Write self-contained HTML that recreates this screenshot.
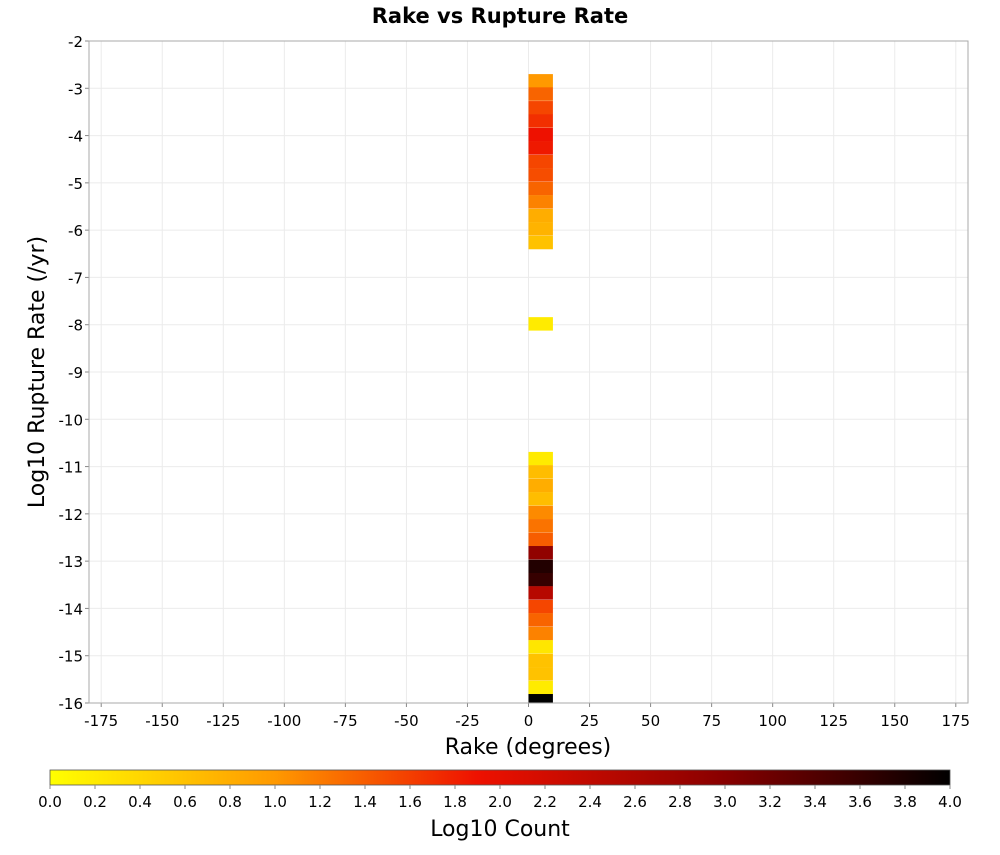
<!DOCTYPE html>
<html><head><meta charset="utf-8"><style>
body{margin:0;background:#fff;font-family:"Liberation Sans","DejaVu Sans",sans-serif;}
svg text{font-family:"DejaVu Sans","Liberation Sans",sans-serif;}
</style></head><body>
<svg id="c" width="1000" height="850" xmlns="http://www.w3.org/2000/svg">
<defs><linearGradient id="g" x1="0" x2="1" y1="0" y2="0">
<stop offset="0" stop-color="#ffff00"/><stop offset="0.25" stop-color="#ff9900"/><stop offset="0.475" stop-color="#ee1100"/><stop offset="0.75" stop-color="#880000"/><stop offset="1" stop-color="#000000"/></linearGradient></defs>
<text x="500" y="23" text-anchor="middle" font-size="21" font-weight="bold">Rake vs Rupture Rate</text>
<g id="grid"></g><g id="cells"></g><g id="axes"></g>
<text x="528" y="754" text-anchor="middle" font-size="22">Rake (degrees)</text>
<text transform="translate(44,372) rotate(-90)" text-anchor="middle" font-size="22">Log10 Rupture Rate (/yr)</text>
<rect x="50" y="770" width="900" height="15" fill="url(#g)" stroke="#555" stroke-width="0.8"/>
<g id="cb"></g>
<text x="500" y="836" text-anchor="middle" font-size="22">Log10 Count</text>
</svg>
<script>
const xTicks=[-175,-150,-125,-100,-75,-50,-25,0,25,50,75,100,125,150,175];
const yTicks=[-2,-3,-4,-5,-6,-7,-8,-9,-10,-11,-12,-13,-14,-15,-16];
const cbTicks=[0,0.2,0.4,0.6,0.8,1.0,1.2,1.4,1.6,1.8,2.0,2.2,2.4,2.6,2.8,3.0,3.2,3.4,3.6,3.8,4.0];
const cellRake=0, cellWidth=10, binSize=0.2845;
// top edge of each bin (log10 rate) and log10 count
const binTops=[-2.70,-2.98,-3.27,-3.55,-3.84,-4.12,-4.41,-4.69,-4.98,-5.26,-5.55,-5.83,-6.12,
 -7.84,
 -10.69,-10.97,-11.26,-11.54,-11.83,-12.11,-12.40,-12.68,-12.97,-13.25,-13.53,-13.82,-14.10,-14.39,-14.67,-14.96,-15.24,-15.53,-15.81];
const counts=[1.0,1.35,1.55,1.7,1.9,1.85,1.55,1.5,1.35,1.15,0.8,0.75,0.6,
 0.2,
 0.2,0.65,0.8,0.65,1.1,1.25,1.4,2.9,3.75,3.6,2.5,1.55,1.35,1.15,0.25,0.6,0.6,0.2,4.0];
const X0=89,X1=968,Y0=41,Y1=703;
const xs=v=>X0+(v+180)/360*(X1-X0);
const ys=v=>Y0+(-2-v)/14*(Y1-Y0);
const ns="http://www.w3.org/2000/svg";
function mk(t,a,p){const e=document.createElementNS(ns,t);for(const k in a)e.setAttribute(k,a[k]);p.appendChild(e);return e;}
const stops=[[0,[255,255,0]],[1,[255,153,0]],[1.9,[238,17,0]],[3,[136,0,0]],[4,[0,0,0]]];
function col(v){v=Math.max(0,Math.min(4,v));for(let i=1;i<stops.length;i++){if(v<=stops[i][0]){const a=stops[i-1],b=stops[i],t=(v-a[0])/(b[0]-a[0]);return 'rgb('+a[1].map((c,j)=>Math.round(c+(b[1][j]-c)*t)).join(',')+')';}}return '#000';}
const grid=document.getElementById('grid'),cells=document.getElementById('cells'),axes=document.getElementById('axes'),cb=document.getElementById('cb');
xTicks.forEach(t=>{const l=mk('line',{x1:xs(t),x2:xs(t),y1:Y0,y2:Y1,stroke:'#ebebeb'},grid);


const tx=mk('text',{x:xs(t),y:Y1+23,'text-anchor':'middle','font-size':15},axes);tx.textContent=t;


mk('line',{x1:xs(t),x2:xs(t),y1:Y1,y2:Y1+4,stroke:'#888'},axes);});
yTicks.forEach(t=>{const l=mk('line',{x1:X0,x2:X1,y1:ys(t),y2:ys(t),stroke:'#ebebeb'},grid);


const tx=mk('text',{x:X0-6,y:ys(t)+6,'text-anchor':'end','font-size':15},axes);tx.textContent=t;


mk('line',{x1:X0-4,x2:X0,y1:ys(t),y2:ys(t),stroke:'#888'},axes);});
const fr=mk('rect',{x:X0,y:Y0,width:X1-X0,height:Y1-Y0,fill:'none',stroke:'#aaa'},axes);


binTops.forEach((top,i)=>{const bot=Math.max(-16,top-binSize);const y1=ys(top),y2=ys(bot);
const r=mk('rect',{x:xs(cellRake),y:y1,width:xs(cellRake+cellWidth)-xs(cellRake),height:y2-y1,fill:col(counts[i])},cells);

});
cbTicks.forEach(t=>{const x=50+t/4*900;mk('line',{x1:x,x2:x,y1:785,y2:789,stroke:'#888'},cb);
const tx=mk('text',{x:x,y:807,'text-anchor':'middle','font-size':15},cb);tx.textContent=t.toFixed(1);

});
</script>
</body></html>
